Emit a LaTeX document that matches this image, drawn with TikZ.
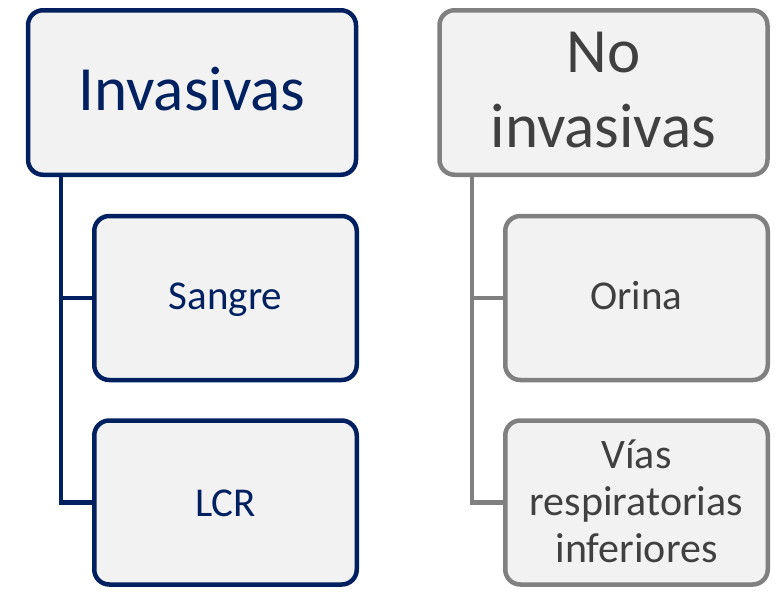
\documentclass[tikz,border=0pt]{standalone}
\usepackage{fontspec}
\setmainfont{Carlito}
\definecolor{navy}{HTML}{002060}
\definecolor{graybd}{HTML}{808080}
\definecolor{graytx}{HTML}{404040}
\definecolor{boxfill}{HTML}{F2F2F2}
\tikzset{
  box/.style={rectangle, rounded corners=15pt, line width=4.5pt, fill=boxfill,
    inner sep=0pt, outer sep=0pt, align=center},
  bluebox/.style={box, draw=navy, text=navy},
  graybox/.style={box, draw=graybd, text=graytx},
  topbox/.style={minimum width=328pt, minimum height=164.5pt},
  childbox/.style={minimum width=262.5pt, minimum height=164pt},
  blueconn/.style={draw=navy, line width=4.5pt},
  grayconn/.style={draw=graybd, line width=4.5pt},
}
\begin{document}
\begin{tikzpicture}[x=1pt,y=-1pt]
\useasboundingbox (0,0) rectangle (782,592);
% left column
\node[bluebox, topbox, font=\fontsize{63}{75}\selectfont, text height=36pt, text depth=0pt] (lt) at (192,92.5) {Invasivas};
\node[bluebox, childbox, font=\fontsize{41}{49}\selectfont, text height=22pt, text depth=0pt] (lc1) at (225.5,298) {Sangre};
\node[bluebox, childbox, font=\fontsize{41}{49}\selectfont, text height=27pt, text depth=0pt] (lc2) at (225.5,502.5) {LCR};
\coordinate (tL) at (61,174);
\draw[blueconn] (tL) |- (lc1.west);
\draw[blueconn] (tL) |- (lc2.west);
% right column
\node[graybox, topbox, font=\fontsize{63}{75}\selectfont, text height=109pt, text depth=0pt] (rt) at (603.5,92.5) {No\\invasivas};
\node[graybox, childbox, font=\fontsize{41}{49}\selectfont, text height=22pt, text depth=0pt] (rc1) at (636.5,298) {Orina};
\node[graybox, childbox, font=\fontsize{42}{47}\selectfont, text height=119pt, text depth=0pt] (rc2) at (636.5,502.5) {Vías\\respiratorias\\inferiores};
\coordinate (tR) at (472,174);
\draw[grayconn] (tR) |- (rc1.west);
\draw[grayconn] (tR) |- (rc2.west);
\end{tikzpicture}
\end{document}
